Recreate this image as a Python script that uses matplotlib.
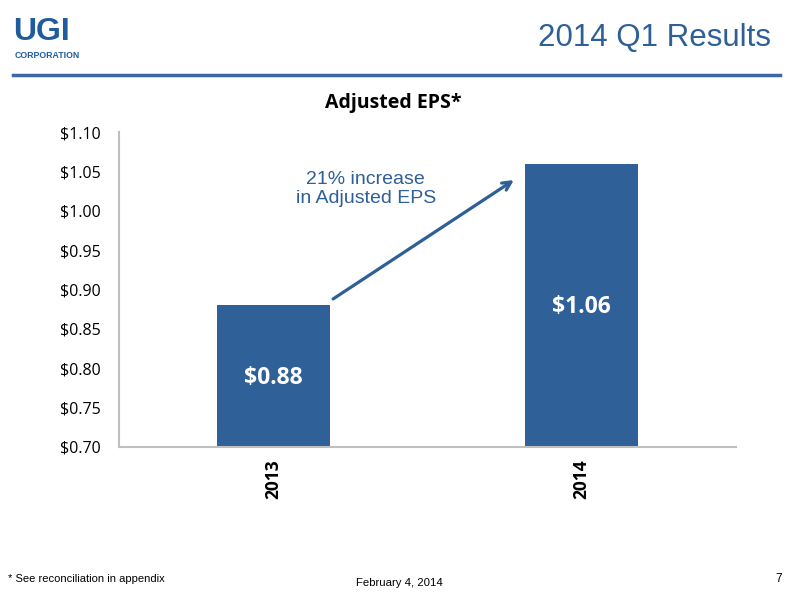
import matplotlib
matplotlib.use("Agg")
import matplotlib.pyplot as plt
from matplotlib.lines import Line2D

years = ["2013", "2014"]
eps = [0.88, 1.06]
bar_labels = ["$0.88", "$1.06"]
y_ticks = [0.70, 0.75, 0.80, 0.85, 0.90, 0.95, 1.00, 1.05, 1.10]
y_tick_labels = ["$%.2f" % v for v in y_ticks]

BLUE = "#2F6098"
TXT_BLUE = "#2E5F96"
CAL = ["Open Sans", "DejaVu Sans"]
ARIAL = ["Liberation Sans", "DejaVu Sans"]

fig = plt.figure(figsize=(8, 6), dpi=100)
ax = fig.add_axes([119/800, 1-447/600, (736-119)/800, (447-132)/600])

x = list(range(len(years)))
ax.bar(x, eps, width=0.365, color=BLUE, zorder=2)
ax.set_xlim(-0.5, 1.5)
ax.set_ylim(0.70, 1.10)
ax.set_yticks(y_ticks)
ax.set_yticklabels(y_tick_labels, fontfamily=CAL, fontsize=11.5)
ax.set_xticks(x)
ax.set_xticklabels(years, rotation=90, fontfamily=CAL, fontsize=12.5, fontweight="bold")
ax.tick_params(axis="both", length=0)
ax.tick_params(axis="y", pad=13)
ax.tick_params(axis="x", pad=9)
for s in ["top", "right"]:
    ax.spines[s].set_visible(False)
for s in ["left", "bottom"]:
    ax.spines[s].set_color("#BFBFBF")
    ax.spines[s].set_linewidth(1.5)

label_y = [0.7876, 0.8778]
for xi, ly, lab in zip(x, label_y, bar_labels):
    ax.text(xi, ly, lab, ha="center", va="center", color="white",
            fontsize=16.5, fontweight="bold", fontfamily=CAL)

# arrow
ax.annotate("", xy=(0.78, 1.039), xytext=(0.194, 0.888),
            xycoords="data", textcoords="data",
            arrowprops=dict(arrowstyle="->", color=TXT_BLUE, lw=2.3,
                            mutation_scale=15, shrinkA=0, shrinkB=0))
ax.text(0.30, 1.0276, "21% increase\nin Adjusted EPS", ha="center", va="center",
        color=TXT_BLUE, fontsize=14, fontfamily=ARIAL, linespacing=1.1)

fig.text(393/800, 1-103/600, "Adjusted EPS*", ha="center", va="center",
         fontsize=14, fontweight="bold", fontfamily=CAL)

# header
fig.text(771/800, 1-38/600, "2014 Q1 Results", ha="right", va="center",
         fontsize=22.5, color=TXT_BLUE, fontfamily=ARIAL)
fig.add_artist(Line2D([13/800, 780/800], [1-75/600, 1-75/600], color="#3A68A8",
                      lw=2.5, transform=fig.transFigure))
fig.text(13/800, 1-32/600, "UGI", ha="left", va="center", fontsize=23,
         fontweight="bold", color="#1F5C9E", fontfamily=ARIAL)
fig.text(15/800, 1-56/600, "CORPORATION", ha="left", va="center", fontsize=6.3,
         fontweight="bold", color="#1F5C9E", fontfamily=ARIAL)

# footer
fig.text(8/800, 1-579/600, "* See reconciliation in appendix", ha="left", va="center",
         fontsize=8, fontfamily=ARIAL)
fig.text(399/800, 1-583/600, "February 4, 2014", ha="center", va="center",
         fontsize=8.2, fontfamily=ARIAL)
fig.text(782/800, 1-579/600, "7", ha="right", va="center",
         fontsize=8.5, fontfamily=ARIAL)

fig.savefig("out.png", dpi=100)
